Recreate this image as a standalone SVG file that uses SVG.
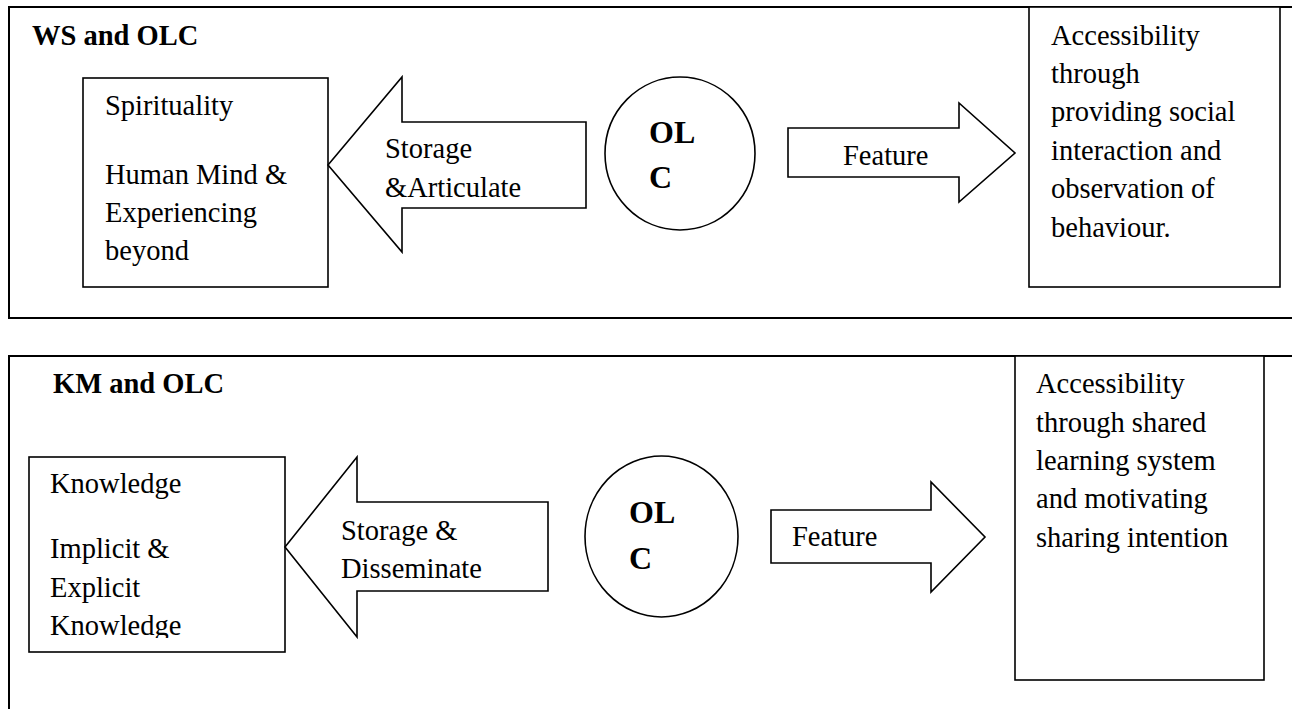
<svg xmlns="http://www.w3.org/2000/svg" width="1292" height="709" viewBox="0 0 1292 709">
  <style>
    .frame { fill: none; stroke: #000; stroke-width: 2; }
    .box { fill: #fff; stroke: #000; stroke-width: 1.6; }
    .shape { fill: #fff; stroke: #000; stroke-width: 1.6; stroke-linejoin: miter; }
    text { font-family: "Liberation Serif", "Times New Roman", serif; fill: #000; }
    .body { font-size: 28.5px; }
    .title { font-size: 28.5px; font-weight: bold; }
    .hub { font-size: 32px; font-weight: bold; }
  </style>
  <defs>
    <clipPath id="clipKnowledge">
      <rect x="29" y="457" width="256" height="181"/>
    </clipPath>
  </defs>
  <rect width="1292" height="709" fill="#fff"/>

  <!-- Panel 1: WS and OLC -->
  <g id="panel-ws">
    <path class="frame" d="M1292 7 H9 V318 H1292"/>
    <text class="title" x="32" y="45">WS and OLC</text>
  </g>
  <g id="node-spirituality">
    <rect class="box" x="83" y="78" width="245" height="209"/>
    <text class="body" x="105" y="115">Spirituality</text>
    <text class="body" x="105" y="184">Human Mind &amp;</text>
    <text class="body" x="105" y="222">Experiencing</text>
    <text class="body" x="105" y="260">beyond</text>
  </g>
  <g id="node-olc-1">
    <ellipse class="shape" cx="680" cy="153.5" rx="75" ry="76.5"/>
    <text class="hub" x="649" y="143">OL</text>
    <text class="hub" x="649" y="188">C</text>
  </g>
  <g id="node-access-1">
    <rect class="box" x="1029" y="7" width="251" height="280"/>
    <text class="body" x="1051" y="45">Accessibility</text>
    <text class="body" x="1051" y="83">through</text>
    <text class="body" x="1051" y="121">providing social</text>
    <text class="body" x="1051" y="160">interaction and</text>
    <text class="body" x="1051" y="198">observation of</text>
    <text class="body" x="1051" y="237">behaviour.</text>
  </g>

  <!-- Panel 2: KM and OLC -->
  <g id="panel-km">
    <path class="frame" d="M1292 356 H9 V709"/>
    <text class="title" x="53" y="393">KM and OLC</text>
  </g>
  <g id="node-knowledge">
    <rect class="box" x="29" y="457" width="256" height="195"/>
    <g clip-path="url(#clipKnowledge)">
      <text class="body" x="50" y="493">Knowledge</text>
      <text class="body" x="50" y="558">Implicit &amp;</text>
      <text class="body" x="50" y="597">Explicit</text>
      <text class="body" x="50" y="635">Knowledge</text>
    </g>
  </g>
  <g id="node-olc-2">
    <ellipse class="shape" cx="661.5" cy="536.5" rx="76.5" ry="80.5"/>
    <text class="hub" x="629" y="523">OL</text>
    <text class="hub" x="629" y="569">C</text>
  </g>
  <g id="node-access-2">
    <rect class="box" x="1015" y="356" width="249" height="324"/>
    <text class="body" x="1036" y="393">Accessibility</text>
    <text class="body" x="1036" y="432">through shared</text>
    <text class="body" x="1036" y="470">learning system</text>
    <text class="body" x="1036" y="508">and motivating</text>
    <text class="body" x="1036" y="547">sharing intention</text>
  </g>

  <!-- Block arrows between the nodes -->
  <g id="connectors">
    <g id="arrow-storage-articulate">
      <polygon class="shape" points="328,165 402,77 402,122 586,122 586,208 402,208 402,252"/>
      <text class="body" x="385" y="158">Storage</text>
      <text class="body" x="385" y="197">&amp;Articulate</text>
    </g>
    <g id="arrow-feature-1">
      <polygon class="shape" points="788,128 959,128 959,103 1015,153 959,202 959,177 788,177"/>
      <text class="body" x="843" y="165">Feature</text>
    </g>
    <g id="arrow-storage-disseminate">
      <polygon class="shape" points="285,547 357,457 357,502 548,502 548,591 357,591 357,637"/>
      <text class="body" x="341" y="540">Storage &amp;</text>
      <text class="body" x="341" y="578">Disseminate</text>
    </g>
    <g id="arrow-feature-2">
      <polygon class="shape" points="771,510 931,510 931,482 985,537 931,592 931,563 771,563"/>
      <text class="body" x="792" y="546">Feature</text>
    </g>
  </g>
</svg>
